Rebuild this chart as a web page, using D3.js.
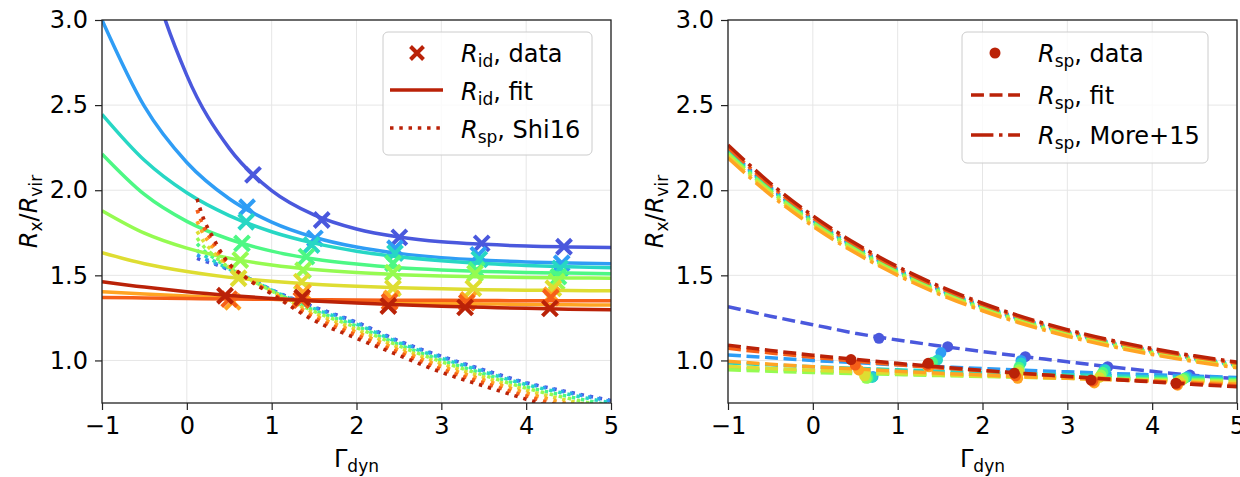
<!DOCTYPE html>
<html><head><meta charset="utf-8">
<script src="https://cdn.jsdelivr.net/npm/d3@7"></script>
<style>body{margin:0;background:#fff}svg text{font-family:"DejaVu Sans",sans-serif}</style>
</head><body><svg id="c" width="1240" height="477"></svg>
<script>
// ---------- data ----------
const colorLevels = [0.1,0.2,0.3,0.4,0.5,0.6,0.7,0.8,0.9];
const xTicks = [-1,0,1,2,3,4,5];
const yTicks = [1.0,1.5,2.0,2.5,3.0];
const fitX = [-1,-0.5,0,0.5,1,1.5,2,2.5,3,3.5,4,4.5,5];

// left: R_id fit curves (one per colour)
const ridFit = [
 [4.71,3.42,2.675,2.246,1.998,1.855,1.772,1.725,1.697,1.682,1.672,1.667,1.664],
 [3.0,2.492,2.163,1.950,1.813,1.724,1.666,1.629,1.604,1.589,1.579,1.572,1.568],
 [2.446,2.176,1.985,1.851,1.756,1.689,1.642,1.609,1.586,1.569,1.558,1.550,1.544],
 [2.213,1.975,1.817,1.712,1.642,1.596,1.566,1.545,1.532,1.523,1.517,1.513,1.510],
 [1.88,1.748,1.66,1.601,1.561,1.534,1.516,1.504,1.496,1.491,1.487,1.485,1.483],
 [1.633,1.568,1.522,1.488,1.465,1.448,1.436,1.427,1.421,1.416,1.413,1.411,1.409],
 [1.404,1.390,1.378,1.368,1.359,1.351,1.345,1.340,1.335,1.332,1.329,1.327,1.325],
 [1.370,1.367,1.364,1.361,1.359,1.357,1.355,1.354,1.353,1.352,1.351,1.351,1.350],
 [1.463,1.431,1.404,1.382,1.364,1.349,1.337,1.327,1.318,1.312,1.306,1.301,1.298]
];
// Gamma_dyn of data points (shared by both panels)
const dataX = [
 [0.78,1.59,2.505,3.476,4.446],
 [0.71,1.51,2.454,3.436,4.419],
 [0.70,1.47,2.454,3.448,4.40],
 [0.65,1.41,2.43,3.417,4.38],
 [0.63,1.37,2.43,3.397,4.36],
 [0.61,1.355,2.43,3.377,4.32],
 [0.54,1.37,2.415,3.318,4.30],
 [0.50,1.35,2.39,3.30,4.29],
 [0.45,1.36,2.375,3.28,4.28]
];
const ridData = [
 [2.09,1.825,1.723,1.688,1.668],
 [1.90,1.717,1.659,1.62,1.571],
 [1.815,1.678,1.63,1.594,1.541],
 [1.688,1.61,1.571,1.531,1.492],
 [1.59,1.53,1.515,1.512,1.463],
 [1.483,1.463,1.424,1.424,1.424],
 [1.345,1.40,1.365,1.355,1.384],
 [1.36,1.355,1.345,1.34,1.37],
 [1.38,1.37,1.32,1.312,1.306]
];
// left: Shi16 R_sp curves
const shiX = [0.12,0.2,0.3,0.45,0.7,1.0,1.5,2,2.5,3,3.5,4,4.5,5];
const shiY = [
 [1.60,1.585,1.57,1.542,1.49,1.415,1.315,1.225,1.115,1.025,0.945,0.87,0.815,0.765],
 [1.62,1.60,1.578,1.545,1.49,1.415,1.31,1.22,1.11,1.02,0.94,0.865,0.81,0.76],
 [1.646,1.618,1.590,1.549,1.490,1.413,1.304,1.213,1.104,1.013,0.933,0.858,0.801,0.750],
 [1.686,1.646,1.608,1.556,1.489,1.410,1.295,1.202,1.094,1.002,0.922,0.846,0.788,0.736],
 [1.719,1.669,1.624,1.562,1.489,1.408,1.288,1.193,1.086,0.993,0.913,0.837,0.777,0.724],
 [1.759,1.697,1.642,1.568,1.488,1.405,1.279,1.182,1.076,0.982,0.902,0.826,0.764,0.710],
 [1.818,1.738,1.669,1.578,1.487,1.400,1.265,1.166,1.062,0.966,0.886,0.809,0.744,0.688],
 [1.884,1.784,1.700,1.589,1.486,1.395,1.250,1.148,1.046,0.948,0.868,0.791,0.722,0.664],
 [1.95,1.83,1.73,1.60,1.485,1.39,1.235,1.13,1.03,0.93,0.85,0.772,0.70,0.64]
];
// right: R_sp data
const rspData = [
 [1.13,1.081,1.022,0.963,0.914],
 [0.905,1.046,1.00,0.95,0.905],
 [0.90,1.003,0.985,0.944,0.90],
 [0.897,0.99,0.96,0.93,0.895],
 [0.895,0.975,0.945,0.915,0.888],
 [0.91,0.965,0.93,0.90,0.88],
 [0.944,0.963,0.895,0.868,0.855],
 [0.973,0.972,0.91,0.878,0.86],
 [1.005,0.983,0.925,0.885,0.866]
];
// right: R_sp fit
const rspFit = [
 [1.316,1.26,1.21,1.16,1.12,1.085,1.052,1.022,0.992,0.963,0.936,0.912,0.893],
 [1.032,1.016,1.000,0.987,0.974,0.963,0.952,0.942,0.933,0.924,0.916,0.908,0.900],
 [0.985,0.974,0.963,0.954,0.945,0.937,0.929,0.922,0.916,0.910,0.904,0.898,0.893],
 [0.955,0.946,0.939,0.931,0.925,0.919,0.913,0.908,0.903,0.898,0.894,0.890,0.886],
 [0.945,0.937,0.929,0.923,0.917,0.911,0.906,0.901,0.896,0.892,0.888,0.884,0.880],
 [0.965,0.953,0.943,0.933,0.924,0.916,0.909,0.902,0.895,0.889,0.883,0.877,0.872],
 [0.995,0.978,0.963,0.950,0.937,0.925,0.915,0.904,0.895,0.886,0.878,0.870,0.862],
 [1.071,1.044,1.019,0.996,0.975,0.956,0.939,0.922,0.906,0.892,0.878,0.865,0.852],
 [1.090,1.059,1.031,1.006,0.983,0.962,0.942,0.923,0.906,0.889,0.874,0.859,0.845]
];
// right: More+15
const more15 = [
 [2.240,2.017,1.829,1.669,1.534,1.418,1.321,1.238,1.168,1.108,1.058,1.015,0.979],
 [2.234,2.012,1.824,1.665,1.530,1.415,1.317,1.235,1.165,1.105,1.055,1.012,0.976],
 [2.228,2.007,1.820,1.661,1.526,1.411,1.314,1.232,1.162,1.103,1.052,1.010,0.973],
 [2.219,1.999,1.812,1.654,1.520,1.406,1.309,1.227,1.157,1.098,1.048,1.006,0.970],
 [2.214,1.994,1.808,1.650,1.516,1.402,1.305,1.224,1.154,1.095,1.046,1.003,0.967],
 [2.202,1.984,1.798,1.641,1.508,1.395,1.299,1.217,1.148,1.090,1.040,0.998,0.962],
 [2.190,1.973,1.789,1.632,1.500,1.387,1.292,1.211,1.142,1.084,1.035,0.993,0.957],
 [2.251,2.028,1.838,1.678,1.541,1.426,1.328,1.245,1.174,1.114,1.063,1.020,0.984],
 [2.266,2.041,1.850,1.688,1.551,1.435,1.336,1.252,1.181,1.121,1.070,1.027,0.990]
];

// ---------- drawing ----------
const svg = d3.select("#c");
const colors = colorLevels.map(d3.interpolateTurbo);
const legendColor = colors[8];
const FS = 24, SUB = 17, SUBDY = 5;
const LW = 3.5;
const DOT = `${LW},${(1.65*LW).toFixed(2)}`;
const DASH = `${(3.7*LW).toFixed(2)},${(1.6*LW).toFixed(2)}`;
const DASHDOT = `${(6.4*LW).toFixed(2)},${(1.6*LW).toFixed(2)},${LW},${(1.6*LW).toFixed(2)}`;
const crossPath = "M-7.5,-7.5L7.5,7.5M-7.5,7.5L7.5,-7.5";
const crossLegend = "M-6.5,-6.5L6.5,6.5M-6.5,6.5L6.5,-6.5";

function mtext(g, x, y, parts, anchor, transform) {
  const t = g.append("text").attr("x", x).attr("y", y)
    .attr("font-size", FS).attr("fill", "#000")
    .attr("text-anchor", anchor || "start");
  if (transform) t.attr("transform", transform);
  let inSub = false;
  parts.forEach(([s, kind]) => {
    const ts = t.append("tspan").text(s);
    if (kind === "i") ts.attr("font-style", "italic");
    if (kind === "s") {
      ts.attr("font-size", SUB);
      if (!inSub) ts.attr("dy", SUBDY);
      inSub = true;
    } else {
      if (inSub) ts.attr("dy", -SUBDY);
      inSub = false;
    }
  });
  return t;
}

function makePanel(x0, id) {
  const x = d3.scaleLinear().domain([-1, 5]).range([x0, x0 + 509]);
  const y = d3.scaleLinear().domain([0.75, 3]).range([403, 20]);
  const g = svg.append("g");
  svg.append("defs").append("clipPath").attr("id", id)
    .append("rect").attr("x", x0).attr("y", 20).attr("width", 509).attr("height", 383);
  // grid
  const grid = g.append("g").attr("stroke", "#e6e6e6").attr("stroke-width", 1);
  xTicks.forEach(v => grid.append("line").attr("x1", x(v)).attr("x2", x(v)).attr("y1", 20).attr("y2", 403));
  yTicks.forEach(v => grid.append("line").attr("x1", x0).attr("x2", x0 + 509).attr("y1", y(v)).attr("y2", y(v)));
  const plot = g.append("g").attr("clip-path", `url(#${id})`);
  // axes
  const ax = g.append("g").attr("transform", "translate(0,403)")
    .call(d3.axisBottom(x).tickValues(xTicks).tickFormat(d3.format("d")).tickSize(7).tickPadding(7));
  const ay = g.append("g").attr("transform", `translate(${x0},0)`)
    .call(d3.axisLeft(y).tickValues(yTicks).tickFormat(d3.format(".1f")).tickSize(7).tickPadding(7));
  [ax, ay].forEach(a => {
    a.select(".domain").remove();
    a.selectAll("text").attr("font-size", FS).attr("font-family", "DejaVu Sans").attr("fill", "#000");
    a.selectAll("line").attr("stroke", "#222").attr("stroke-width", 1.2);
  });
  g.append("rect").attr("x", x0).attr("y", 20).attr("width", 509).attr("height", 383)
    .attr("fill", "none").attr("stroke", "#222").attr("stroke-width", 1.3);
  // labels
  mtext(g, x0 + 254.5, 467, [["Γ", "n"], ["dyn", "s"]], "middle");
  mtext(g, 0, 0, [["R", "i"], ["x", "s"], ["/", "n"], ["R", "i"], ["vir", "s"]], "middle",
        `translate(${x0 - 65},211.5) rotate(-90)`);
  return {x, y, g, plot};
}

const curve = d3.curveMonotoneX;

// ---- left panel ----
const L = makePanel(102, "clipL");
colors.forEach((c, i) => {
  const line = d3.line().x((d, k) => L.x(fitX[k])).y(d => L.y(d)).curve(curve);
  L.plot.append("path").attr("d", line(ridFit[i])).attr("fill", "none")
    .attr("stroke", c).attr("stroke-width", LW);
  ridData[i].forEach((v, k) => {
    L.plot.append("path").attr("d", crossPath)
      .attr("transform", `translate(${L.x(dataX[i][k])},${L.y(v)})`)
      .attr("stroke", c).attr("stroke-width", 4).attr("fill", "none");
  });
  const sline = d3.line().x((d, k) => L.x(shiX[k])).y(d => L.y(d)).curve(curve);
  L.plot.append("path").attr("d", sline(shiY[i])).attr("fill", "none")
    .attr("stroke", c).attr("stroke-width", LW).attr("stroke-dasharray", DOT);
});
// left legend
{
  const lg = L.g.append("g");
  lg.append("rect").attr("x", 383).attr("y", 32).attr("width", 209).attr("height", 123).attr("rx", 5)
    .attr("fill", "#fff").attr("fill-opacity", 0.8).attr("stroke", "#cccccc").attr("stroke-width", 1);
  lg.append("path").attr("d", crossLegend).attr("transform", "translate(417,53)")
    .attr("stroke", legendColor).attr("stroke-width", 4);
  lg.append("line").attr("x1", 390).attr("x2", 443).attr("y1", 90).attr("y2", 90)
    .attr("stroke", legendColor).attr("stroke-width", LW);
  lg.append("line").attr("x1", 390).attr("x2", 443).attr("y1", 128).attr("y2", 128)
    .attr("stroke", legendColor).attr("stroke-width", LW).attr("stroke-dasharray", DOT);
  mtext(lg, 461, 62, [["R", "i"], ["id", "s"], [", data", "n"]]);
  mtext(lg, 461, 100, [["R", "i"], ["id", "s"], [", fit", "n"]]);
  mtext(lg, 461, 138, [["R", "i"], ["sp", "s"], [", Shi16", "n"]]);
}

// ---- right panel ----
const R = makePanel(728, "clipR");
colors.forEach((c, i) => {
  const line = d3.line().x((d, k) => R.x(fitX[k])).y(d => R.y(d)).curve(curve);
  R.plot.append("path").attr("d", line(rspFit[i])).attr("fill", "none")
    .attr("stroke", c).attr("stroke-width", LW).attr("stroke-dasharray", DASH);
  rspData[i].forEach((v, k) => {
    R.plot.append("circle").attr("cx", R.x(dataX[i][k])).attr("cy", R.y(v)).attr("r", 5.5).attr("fill", c);
  });
  R.plot.append("path").attr("d", line(more15[i])).attr("fill", "none")
    .attr("stroke", c).attr("stroke-width", LW).attr("stroke-dasharray", DASHDOT);
});
{
  const lg = R.g.append("g");
  lg.append("rect").attr("x", 962).attr("y", 32).attr("width", 246).attr("height", 131).attr("rx", 5)
    .attr("fill", "#fff").attr("fill-opacity", 0.8).attr("stroke", "#cccccc").attr("stroke-width", 1);
  lg.append("circle").attr("cx", 995).attr("cy", 53).attr("r", 5.5).attr("fill", legendColor);
  lg.append("line").attr("x1", 971).attr("x2", 1020).attr("y1", 95).attr("y2", 95)
    .attr("stroke", legendColor).attr("stroke-width", LW).attr("stroke-dasharray", DASH);
  lg.append("line").attr("x1", 971).attr("x2", 1020).attr("y1", 135).attr("y2", 135)
    .attr("stroke", legendColor).attr("stroke-width", LW).attr("stroke-dasharray", DASHDOT);
  mtext(lg, 1038, 62, [["R", "i"], ["sp", "s"], [", data", "n"]]);
  mtext(lg, 1038, 103.5, [["R", "i"], ["sp", "s"], [", fit", "n"]]);
  mtext(lg, 1038, 143.5, [["R", "i"], ["sp", "s"], [", More+15", "n"]]);
}
</script></body></html>
